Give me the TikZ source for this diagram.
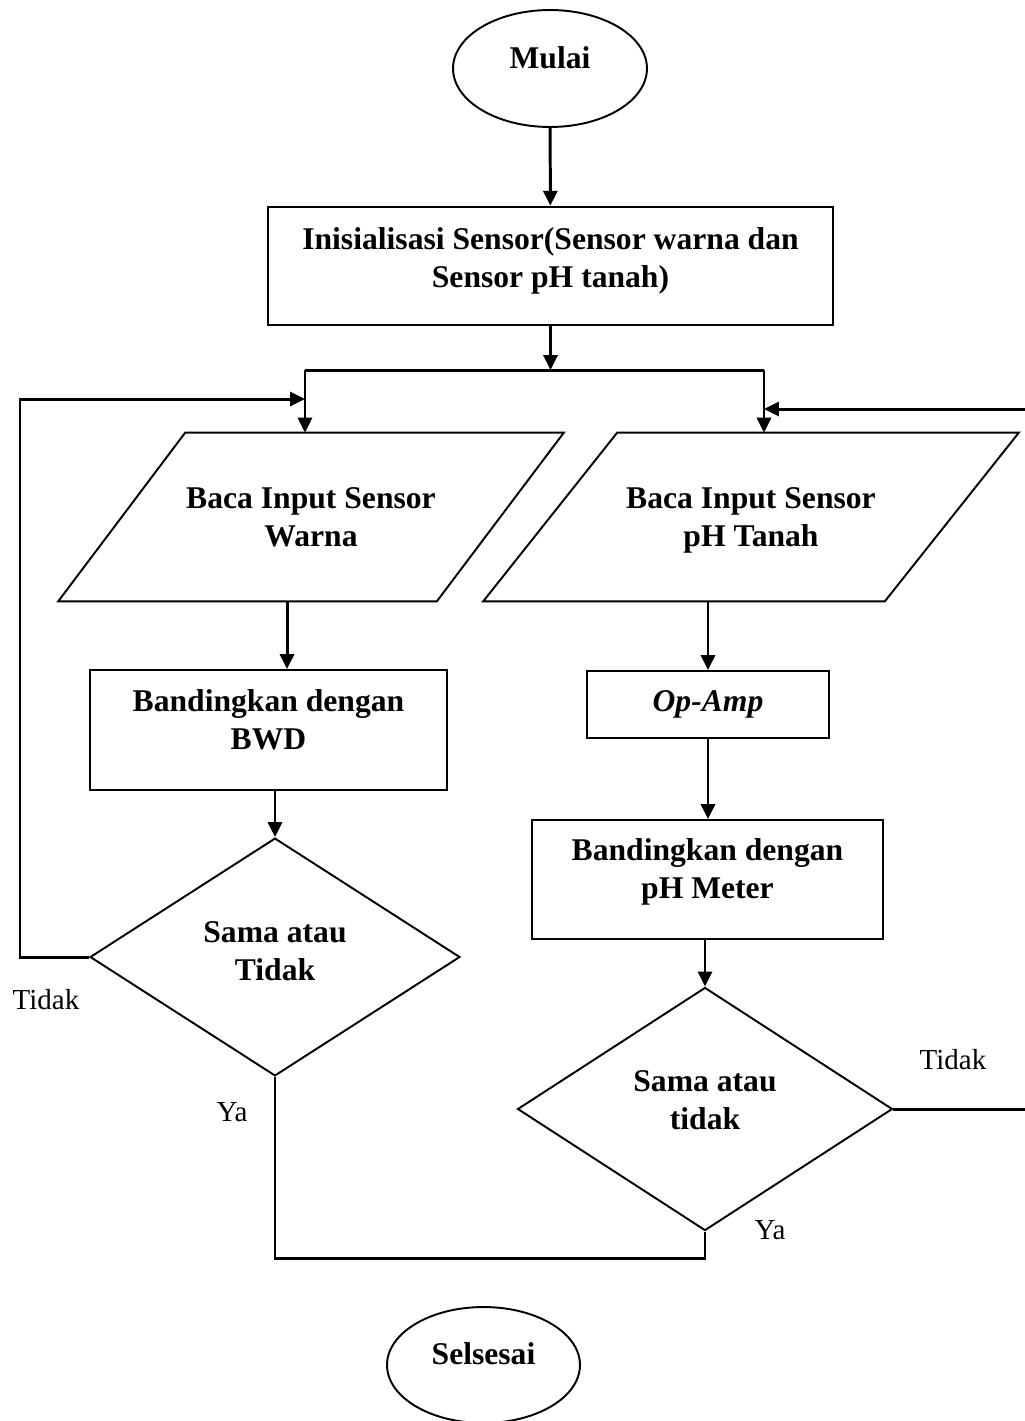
\documentclass[tikz,border=0pt]{standalone}
\usepackage{fontspec}
\setmainfont{Liberation Serif}
\usetikzlibrary{shapes.geometric,arrows.meta}

\begin{document}
\begin{tikzpicture}[x=0.02cm,y=-0.02cm,
    big/.style={font=\fontsize{18}{21.6}\selectfont\bfseries},
    shp/.style={draw,line width=1.1pt},
    term/.style={ellipse,shp,big},
    proc/.style={rectangle,shp,align=center,big},
    io/.style={rectangle,align=center,minimum height=3.36cm,text depth=0pt,big},
    cond/.style={diamond,shp,align=center,big},
    lbl/.style={font=\fontsize{16.5}{19.8}\selectfont},
    line/.style={line width=1.7pt},
    arr/.style={line,-{Triangle[length=8.5pt,width=8pt]}}]

    \useasboundingbox (0,0) rectangle (1025,1421);

    \node[term,minimum width=3.88cm,minimum height=2.34cm,text depth=12.5pt] (start) at (550,68.5) {Mulai};
    \node[proc,line width=1.5pt,minimum width=11.3cm,minimum height=2.36cm,text depth=10pt] (init) at (550.5,266) {Inisialisasi Sensor(Sensor warna dan\\Sensor pH tanah)};

    \coordinate (split) at (550.5,370);
    \coordinate (jl) at (305,370);
    \coordinate (jr) at (764,370);
    \coordinate (loopL) at (20,399);
    \coordinate (edgeR) at (1025,409);
    \coordinate (join) at (490,1258);

    \node[io,minimum width=7.56cm] (readc) at (311,517) {Baca Input Sensor\\Warna};
    \node[io,minimum width=8.02cm] (readph) at (751,517) {Baca Input Sensor\\pH Tanah};
    \foreach \n/\s in {readc/1.27cm,readph/1.34cm}{
        \draw[shp] ([xshift=-\s]\n.south west) -- ([xshift=\s]\n.north west) -- ([xshift=\s]\n.north east) -- ([xshift=-\s]\n.south east) -- cycle;
    }

    \node[proc,minimum width=7.14cm,minimum height=2.4cm,text depth=12pt] (bwd) at (268.5,730) {Bandingkan dengan\\BWD};
    \node[proc,minimum width=4.84cm,minimum height=1.34cm,font=\fontsize{18}{21.6}\selectfont\bfseries\itshape] (opamp) at (708,704.5) {Op-Amp};
    \node[proc,minimum width=7.02cm,minimum height=2.38cm,text depth=12pt] (phm) at (707.5,879.5) {Bandingkan dengan\\pH Meter};

    \node[cond,minimum width=7.4cm,minimum height=4cm,text depth=7pt] (cmpc) at (275,957) {Sama atau\\Tidak};
    \node[cond,minimum width=7.5cm,minimum height=3.96cm,text depth=10pt] (cmpph) at (705,1109) {Sama atau\\tidak};

    \node[term,minimum width=3.86cm,minimum height=2.32cm,text depth=13pt] (stop) at (483.5,1365) {Selsesai};

    \node[lbl] (tdkL) at (46,1000) {Tidak};
    \node[lbl] (yaL) at (232,1112) {Ya};
    \node[lbl] (tdkR) at (953,1060) {Tidak};
    \node[lbl] (yaR) at (770,1230) {Ya};

    \draw[arr] (start) -- (init);
    \draw[arr] (init) -- (split);
    \draw[line] (jl) -- (jr);
    \draw[arr] (jl) -- (jl |- readc.north);
    \draw[arr] (jr) -- (jr |- readph.north);

    \draw[arr] ([xshift=-0.48cm]readc.south) -- ([xshift=-0.48cm]readc.south |- bwd.north);
    \draw[arr] (cmpc.north |- bwd.south) -- (cmpc.north);
    \draw[arr] (cmpc.west) -| (loopL) -- (jl |- loopL);

    \draw[arr] (opamp.north |- readph.south) -- (opamp.north);
    \draw[arr] (opamp.south) -- (opamp.south |- phm.north);
    \draw[arr] (cmpph.north |- phm.south) -- (cmpph.north);
    \draw[line] (cmpph.east) -- (cmpph.east -| edgeR);
    \draw[arr] (edgeR) -- (jr |- edgeR);

    \draw[line] (cmpc.south) |- (join) -| (cmpph.south);

\end{tikzpicture}
\end{document}
